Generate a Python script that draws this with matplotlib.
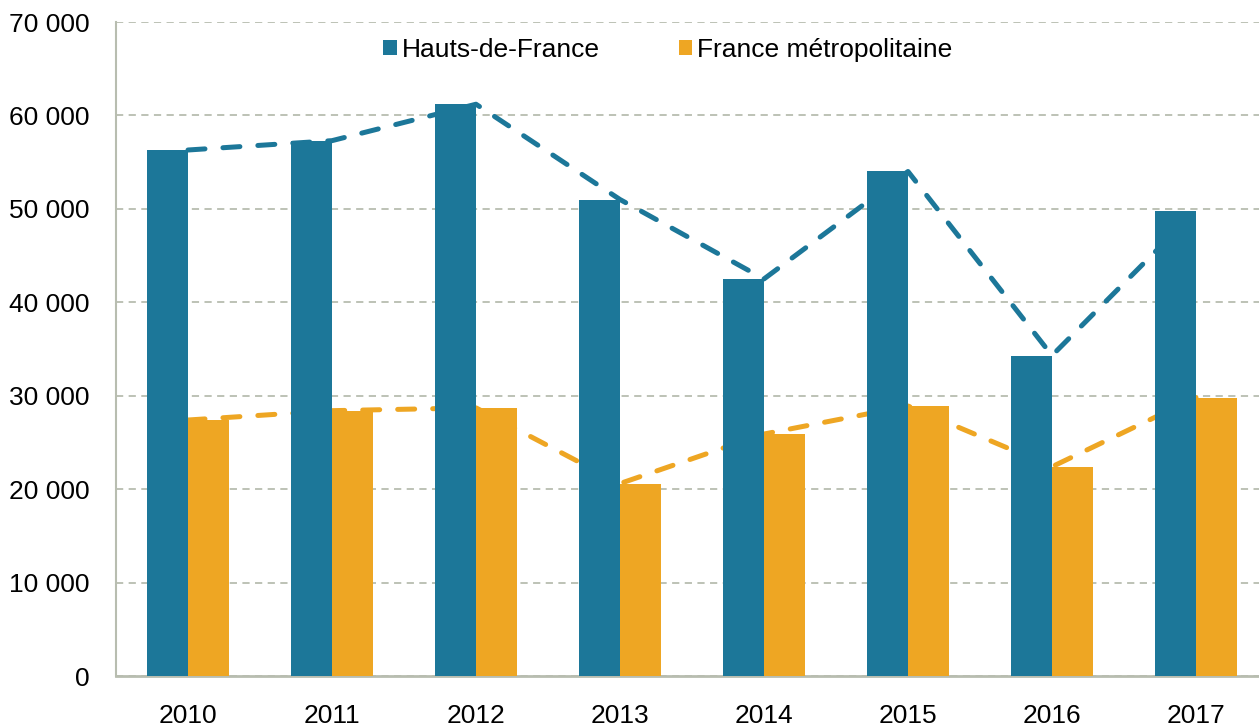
import matplotlib.pyplot as plt
import numpy as np

annees = ["2010", "2011", "2012", "2013", "2014", "2015", "2016", "2017"]
hauts_de_france = [56300, 57300, 61200, 51000, 42500, 54000, 34300, 49800]
france_metro = [27400, 28400, 28700, 20600, 25900, 28900, 22400, 29800]

BLEU = "#1c7799"
ORANGE = "#eea623"
GRIS = "#b8bdb0"

plt.rcParams["font.family"] = ["Liberation Sans", "DejaVu Sans"]

fig = plt.figure(figsize=(12.59, 7.26), dpi=100)
ax = fig.add_axes([116 / 1259, 50 / 726, 1152 / 1259, 654 / 726])

x = np.arange(len(annees))
largeur = 41 / 144

# lignes pointillees derriere les barres, au centre de chaque groupe
ax.plot(x, hauts_de_france, color=BLEU, lw=3.6, dashes=(3.4, 3.6),
        dash_capstyle="round", zorder=2)
ax.plot(x, france_metro, color=ORANGE, lw=3.6, dashes=(3.4, 3.6),
        dash_capstyle="round", zorder=2)

ax.bar(x - largeur / 2, hauts_de_france, largeur, color=BLEU,
       label="Hauts-de-France", zorder=3)
ax.bar(x + largeur / 2, france_metro, largeur, color=ORANGE,
       label="France métropolitaine", zorder=3)

ax.set_xlim(-0.5, len(annees) - 0.5)
ax.set_ylim(0, 70000)
ax.set_yticks(np.arange(0, 70001, 10000))
ax.set_yticklabels([f"{v:,}".replace(",", " ") for v in range(0, 70001, 10000)])
ax.set_xticks(x)
ax.set_xticklabels(annees)
ax.tick_params(axis="y", length=0, pad=19, labelsize=19)
ax.tick_params(axis="x", length=0, pad=20, labelsize=19)

ax.set_axisbelow(True)
ax.yaxis.grid(True, color=GRIS, linestyle=(0, (4, 3)), lw=1.3)

for cote in ["top", "right"]:
    ax.spines[cote].set_visible(False)
ax.spines["left"].set_color(GRIS)
ax.spines["left"].set_linewidth(1.5)
ax.spines["bottom"].set_color(GRIS)
ax.spines["bottom"].set_linewidth(2)

fig.legend(loc="center", bbox_to_anchor=(668 / 1259, 1 - 50 / 726), ncol=2,
           frameon=False, fontsize=19, handlelength=0.5, handleheight=0.5,
           handletextpad=0.2, columnspacing=3.0)

fig.savefig("out.png", dpi=100)
